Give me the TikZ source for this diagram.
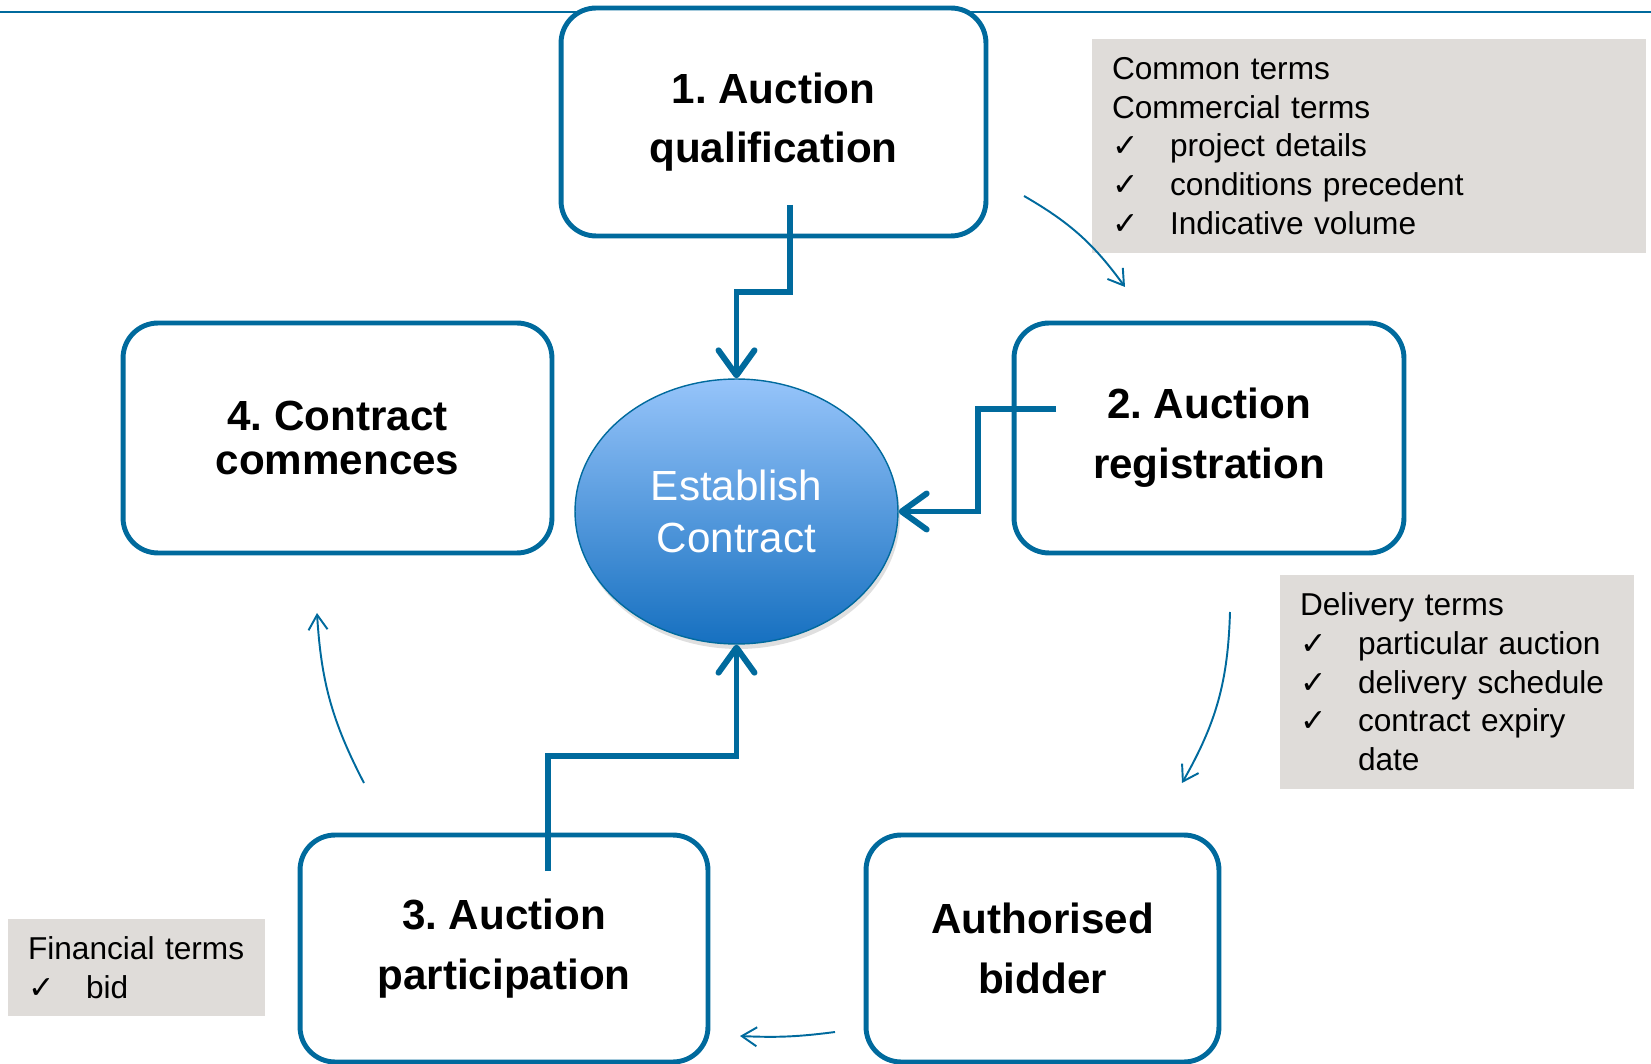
\documentclass[tikz,border=0pt]{standalone}
\usepackage{fontspec}
\setmainfont{Liberation Sans}
\newfontfamily\symfont{DejaVu Sans}
\usepackage{xcolor}
\usepackage{tikz}
\usetikzlibrary{arrows.meta,calc,positioning,shapes.geometric,shadows}
\frenchspacing
\definecolor{flowblue}{RGB}{0,106,157}
\definecolor{termgrey}{RGB}{223,220,217}
\definecolor{ovaltop}{RGB}{150,196,250}
\definecolor{ovalbot}{RGB}{22,112,192}
\newcommand{\Chk}{\makebox[1.16cm][l]{\symfont\fontsize{18}{22}\selectfont ✓}}
\newcommand{\Gap}{\makebox[1.16cm][l]{}}
\tikzset{
  stepbox/.style={draw=flowblue, fill=white, line width=2.8pt, rounded corners=0.7cm,
    align=center, inner sep=0pt, font=\fontsize{24}{34}\selectfont\bfseries},   % the five steps
  oval/.style={ellipse, draw=flowblue, line width=0.8pt, shading=axis,
    top color=ovaltop, bottom color=ovalbot, text=white, align=center, inner sep=0pt,
    minimum width=6.46cm, minimum height=5.3cm, font=\fontsize{24}{29.5}\selectfont,
    drop shadow={opacity=0.25, shadow xshift=0.04cm, shadow yshift=-0.1cm}},      % centre
  terms/.style={fill=termgrey, inner xsep=0.4cm, inner ysep=0pt, align=left,
    font=\fontsize{18}{22}\selectfont},                                           % grey lists
  flow/.style={draw=flowblue, line width=3.4pt,
    -{Straight Barb[length=0.5cm,width=0.72cm,round]}},
  turn/.style={draw=flowblue, line width=1.1pt, -{Straight Barb[length=0.3cm,width=0.38cm]}},
  topline/.style={draw=flowblue, line width=1.2pt}
}

\begin{document}
\begin{tikzpicture}[x=0.02cm, y=0.02cm]
  \useasboundingbox (0,0) rectangle (1651,1063);
  \draw[topline] (0,1051) -- (1651,1051);
  % steps round the middle
  \node[stepbox, minimum width=8.5cm, minimum height=4.56cm] (q1) at (773.5,941) {1. Auction\\qualification};
  \node[stepbox, minimum width=7.8cm, minimum height=4.6cm] (r2) at (1209,625) {2. Auction\\registration};
  \node[stepbox, minimum width=8.16cm, minimum height=4.54cm] (p3) at (504,114.5) {3. Auction\\participation};
  \node[stepbox, minimum width=8.58cm, minimum height=4.6cm,
    font=\fontsize{24}{25}\selectfont\bfseries] (c4) at (337.5,625) {4. Contract\\commences};
  \node[stepbox, minimum width=7.06cm, minimum height=4.54cm] (ab) at (1042.5,114.5) {Authorised\\bidder};
  % centre
  \node[oval] (ec) at (736.5,551.5) {Establish\\Contract};
  % grey term lists
  \node[terms, text width=10.28cm, minimum height=4.28cm] (ct) at (1369,917)
    {Common terms\\Commercial terms\\\Chk project details\\\Chk conditions precedent\\\Chk Indicative volume};
  \node[terms, text width=6.28cm, minimum height=4.28cm] (dt) at (1457,381)
    {Delivery terms\\\Chk particular auction\\\Chk delivery schedule\\\Chk contract expiry\\\Gap date};
  \node[terms, text width=4.34cm, minimum height=1.94cm] (ft) at (136.5,95.5)
    {Financial terms\\\Chk bid};
  % thick feeds into the centre
  \coordinate (q1out) at (790,858);
  \coordinate (r2out) at (1056,654);
  \coordinate (p3out) at (548,192);
  \draw[flow] (q1out) -- ++(0,-87) -| (ec.north);
  \draw[flow] (r2out) -- ++(-78,0) |- (ec.east);
  \draw[flow] (p3out) -- ++(0,115) -| (ec.south);
  % thin arrows going round
  \coordinate (t1a) at (1024,867); \coordinate (t1b) at (1125,776);
  \coordinate (t2a) at (1230,451); \coordinate (t2b) at (1182,280);
  \coordinate (t3a) at (835,31);   \coordinate (t3b) at (740,27);
  \coordinate (t4a) at (364,280);  \coordinate (t4b) at (317,450);
  \foreach \s/\t/\b in {t1a/t1b/12, t2a/t2b/14, t3a/t3b/5, t4a/t4b/12}
    \draw[turn] (\s) to[bend left=\b] (\t);
\end{tikzpicture}
\end{document}
